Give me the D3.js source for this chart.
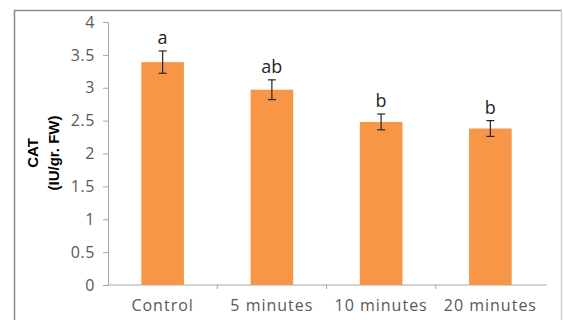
<!DOCTYPE html>
<html>
<head>
<meta charset="utf-8">
<script src="https://cdn.jsdelivr.net/npm/d3@7"></script>
<style>
  body { margin: 0; background: #fff; }
  svg { display: block; }
</style>
</head>
<body>
<div id="chart"></div>
<script>
const categories = ["Control", "5 minutes", "10 minutes", "20 minutes"];
const values = [3.39, 2.97, 2.48, 2.38];
const errors = [0.17, 0.15, 0.12, 0.12];
const letters = ["a", "ab", "b", "b"];
const yTicks = [0, 0.5, 1, 1.5, 2, 2.5, 3, 3.5, 4];
const yTitle = ["CAT", "(IU/gr. FW)"];

const width = 563;
const height = 320;
const margin = { top: 22, right: 18, bottom: 35, left: 108 };
const innerWidth = width - margin.left - margin.right;
const innerHeight = height - margin.top - margin.bottom;

const svg = d3
  .select("#chart")
  .append("svg")
  .attr("width", width)
  .attr("height", height);

// outer frame (left, top, right)
const frame = svg.append("g").attr("stroke", "#8c8c8c").attr("stroke-width", 1.5);
frame.append("line").attr("x1", 14.5).attr("x2", 14.5).attr("y1", 10).attr("y2", height);
frame.append("line").attr("x1", 14).attr("x2", width - 1).attr("y1", 10.5).attr("y2", 10.5);
frame.append("line").attr("x1", width - 1.5).attr("x2", width - 1.5).attr("y1", 10).attr("y2", height)
  .attr("stroke", "#d0d0d0");

const g = svg.append("g")
  .attr("transform", "translate(" + margin.left + "," + margin.top + ")");

const x = d3.scaleBand()
  .domain(categories)
  .range([0, innerWidth])
  .paddingInner(0.61)
  .paddingOuter(0.305);

const xEdge = d3.scaleLinear()
  .domain([0, categories.length])
  .range([0, innerWidth]);

const y = d3.scaleLinear().domain([0, 4]).range([innerHeight, 0]);

// y axis
const yAxis = d3.axisLeft(y)
  .tickValues(yTicks)
  .tickSize(5)
  .tickPadding(8)
  .tickFormat(d3.format("~g"));

const yAxisGroup = g.append("g").attr("class", "y axis").call(yAxis);
yAxisGroup.select(".domain").attr("stroke", "#a6a6a6");
yAxisGroup.selectAll(".tick line").attr("stroke", "#a6a6a6");
yAxisGroup.selectAll("text")
  .attr("fill", "#595959")
  .style("font-family", "'Open Sans', sans-serif")
  .style("font-size", "16px")
  .style("letter-spacing", "0.6px");

// x axis: line with ticks on category boundaries
g.append("line")
  .attr("x1", 0).attr("x2", innerWidth + 2)
  .attr("y1", innerHeight).attr("y2", innerHeight)
  .attr("stroke", "#a6a6a6");

g.selectAll(".xtick")
  .data(d3.range(1, categories.length))
  .enter()
  .append("line")
  .attr("class", "xtick")
  .attr("x1", function(d) { return xEdge(d); })
  .attr("x2", function(d) { return xEdge(d); })
  .attr("y1", innerHeight)
  .attr("y2", innerHeight + 4)
  .attr("stroke", "#a6a6a6");

g.selectAll(".xlabel")
  .data(categories)
  .enter()
  .append("text")
  .attr("class", "xlabel")
  .attr("x", function(d) { return x(d) + x.bandwidth() / 2; })
  .attr("y", innerHeight + 26)
  .attr("text-anchor", "middle")
  .attr("fill", "#595959")
  .style("font-family", "'Open Sans', sans-serif")
  .style("font-size", "16px")
  .style("letter-spacing", "1px")
  .text(function(d) { return d; });

// bars
g.selectAll(".bar")
  .data(categories)
  .enter()
  .append("rect")
  .attr("class", "bar")
  .attr("x", function(d) { return x(d); })
  .attr("width", x.bandwidth())
  .attr("y", function(d, i) { return y(values[i]); })
  .attr("height", function(d, i) { return innerHeight - y(values[i]); })
  .attr("fill", "#f79646");

// error bars
const err = g.selectAll(".err")
  .data(categories)
  .enter()
  .append("g")
  .attr("class", "err")
  .attr("stroke", "#262626")
  .attr("stroke-width", 1.2);

err.append("line")
  .attr("x1", function(d) { return x(d) + x.bandwidth() / 2; })
  .attr("x2", function(d) { return x(d) + x.bandwidth() / 2; })
  .attr("y1", function(d, i) { return y(values[i] + errors[i]); })
  .attr("y2", function(d, i) { return y(values[i] - errors[i]); });

err.append("line")
  .attr("x1", function(d) { return x(d) + x.bandwidth() / 2 - 4; })
  .attr("x2", function(d) { return x(d) + x.bandwidth() / 2 + 4; })
  .attr("y1", function(d, i) { return y(values[i] + errors[i]); })
  .attr("y2", function(d, i) { return y(values[i] + errors[i]); });

err.append("line")
  .attr("x1", function(d) { return x(d) + x.bandwidth() / 2 - 4; })
  .attr("x2", function(d) { return x(d) + x.bandwidth() / 2 + 4; })
  .attr("y1", function(d, i) { return y(values[i] - errors[i]); })
  .attr("y2", function(d, i) { return y(values[i] - errors[i]); });

// significance letters
g.selectAll(".letter")
  .data(categories)
  .enter()
  .append("text")
  .attr("class", "letter")
  .attr("x", function(d) { return x(d) + x.bandwidth() / 2; })
  .attr("y", function(d, i) { return y(values[i] + errors[i]) - 7; })
  .attr("text-anchor", "middle")
  .attr("fill", "#262626")
  .style("font-family", "'Open Sans', sans-serif")
  .style("font-size", "18px")
  .text(function(d, i) { return letters[i]; });

// y label, two rotated lines
svg.selectAll(".ytitle")
  .data(yTitle)
  .enter()
  .append("text")
  .attr("class", "ytitle")
  .attr("transform", function(d, i) { return "translate(" + (38 + i * 21) + ",153) rotate(-90)"; })
  .attr("text-anchor", "middle")
  .attr("fill", "#000")
  .style("font-family", "'Liberation Sans', Arial, sans-serif")
  .style("font-weight", "bold")
  .style("font-size", "15px")
  .text(function(d) { return d; });
</script>
</body>
</html>
